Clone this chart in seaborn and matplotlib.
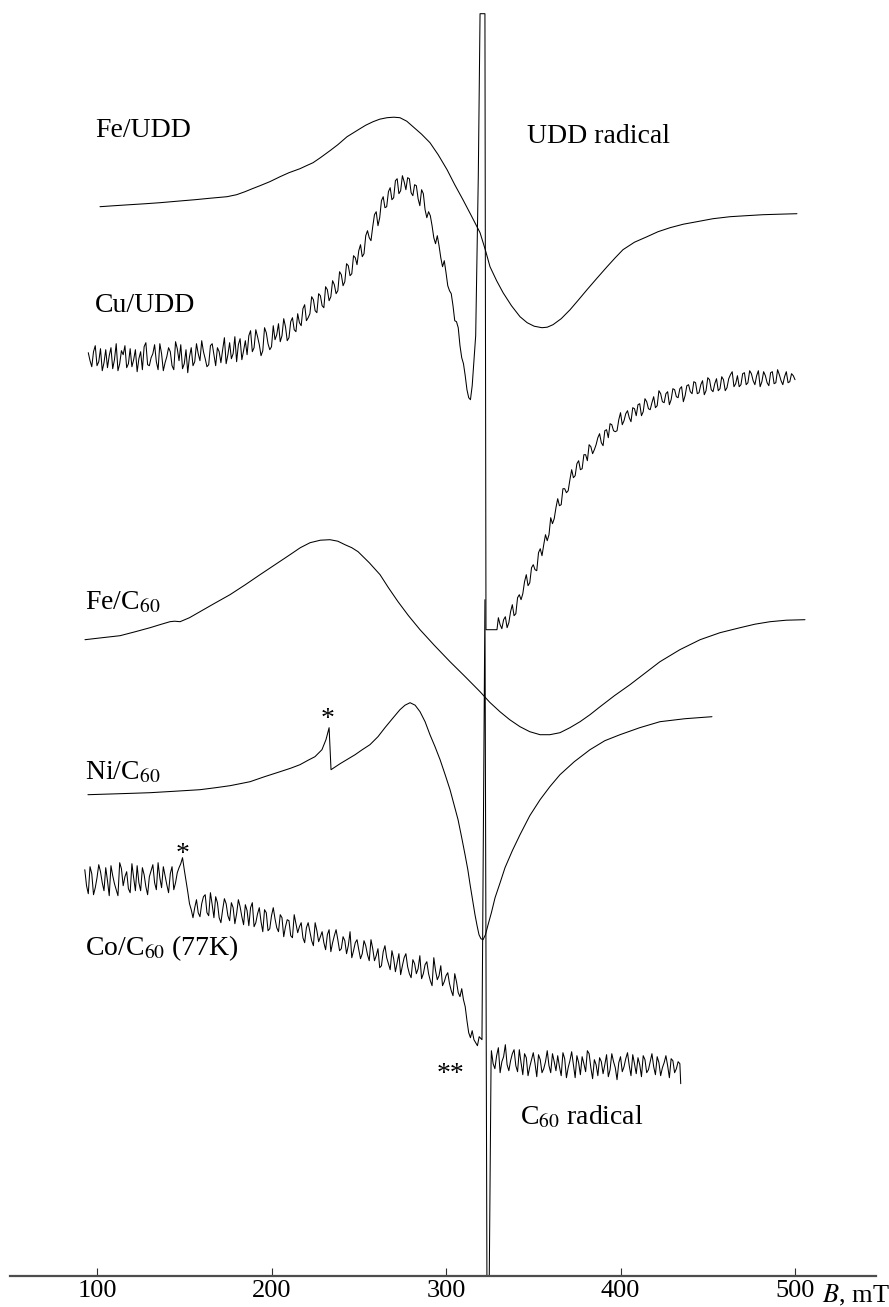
import numpy as np
import pandas as pd
import matplotlib
matplotlib.use("Agg")
import matplotlib.pyplot as plt
import seaborn as sns

# ---- field axis (mT) ----
tick_fields = [100, 200, 300, 400, 500]
tick_labels = ["100", "200", "300", "400", "500"]

# ---- Fe/UDD (smooth, broad) ----
fe_udd_B = [101.7, 110, 118.9, 128, 136.1, 146, 156.2, 165, 174.5, 180,
            184.8, 189, 193.4, 199, 204.9, 210, 216.3, 220, 223.8, 228,
            233.5, 238, 243.3, 247, 250.7, 254, 258.2, 262, 266.2, 270,
            273.6, 277.5, 281.1, 286, 290.8, 295.5, 300.6, 305, 309.7, 314.5,
            319.5, 322.5, 325.2, 329, 332.7, 337.5, 342.4, 346.5, 350.5, 355.0,
            358, 361.3, 366, 371.1, 376, 380.8, 386.5, 392.3, 397, 401.4,
            408, 415.2, 421.5, 428.4, 436, 443.8, 453, 462.8, 472, 481.7,
            491, 501.1]
fe_udd_I = [1069, 1070, 1071, 1072, 1073, 1074.5, 1076, 1077.5, 1079, 1081,
            1084, 1087, 1090, 1094, 1099, 1103, 1107, 1110, 1113, 1118,
            1125, 1131, 1139, 1143, 1147, 1150.5, 1154, 1156.5, 1158, 1158.5,
            1158, 1154.5, 1149, 1141.5, 1133, 1121, 1106, 1091, 1076, 1060,
            1043, 1026, 1009, 995, 983, 970, 959, 953, 949.5, 948,
            948.5, 951, 957, 966, 976, 986, 997.5, 1009, 1018, 1026,
            1033.5, 1039, 1044, 1048, 1051.5, 1054, 1057, 1059, 1060, 1061,
            1061.5, 1062]

# ---- Cu/UDD (noisy), low-field wing: even and odd field points ----
cu_left_B = np.arange(95, 316, 2)
cu_left_I = [923, 909, 930, 914, 905, 926, 920, 907, 932, 912,
             921, 908, 927, 916, 904, 924, 929, 911, 918, 931,
             906, 922, 913, 928, 910, 934, 915, 907, 926, 919,
             910, 932, 915, 924, 909, 930, 921, 928, 913, 938,
             921, 917, 939, 931, 916, 935, 940, 924, 946, 931,
             925, 943, 926, 950, 941, 934, 957, 935, 954, 946,
             962, 950, 971, 958, 979, 965, 982, 970, 989, 975,
             995, 982, 1004, 990, 1012, 1000, 1020, 1011, 1031, 1022,
             1045, 1035, 1061, 1050, 1075, 1068, 1084, 1076, 1095, 1082,
             1100, 1086, 1097, 1080, 1090, 1070, 1082, 1058, 1060, 1038,
             1040, 1018, 1015, 990, 982, 955, 948, 918, 900, 878,
             890]
cu_left_mid_B = np.arange(96, 315, 2)
cu_left_mid_I = [915, 924, 910, 927, 913, 908, 928, 916, 905, 925,
                 930, 912, 909, 926, 917, 906, 933, 910, 922, 914,
                 932, 905, 919, 924, 906, 927, 931, 912, 903, 928,
                 914, 922, 935, 917, 911, 932, 910, 924, 926, 912,
                 933, 922, 914, 937, 925, 921, 945, 928, 939, 920,
                 948, 932, 929, 936, 952, 940, 949, 938, 958, 944,
                 953, 967, 955, 962, 976, 963, 980, 968, 986, 979,
                 991, 985, 1001, 994, 1010, 1002, 1018, 1025, 1019, 1040,
                 1038, 1049, 1064, 1058, 1079, 1069, 1088, 1078, 1097, 1085,
                 1094, 1098, 1083, 1091, 1077, 1086, 1066, 1064, 1050, 1032,
                 1030, 1009, 1003, 985, 970, 954, 930, 912, 886, 876]
# UDD radical narrow line riding on the Cu/UDD spectrum
cu_line_B = [317.0, 318.5, 319.5, 322.3, 322.9, 329.2]
cu_line_I = [940, 1100, 1262, 1262, 646, 646]
# high-field wing
cu_right_B = np.arange(330, 501, 2)
cu_right_I = [658, 647, 659, 653, 671, 662, 681, 682, 701, 693,
              711, 705, 727, 731, 735, 758, 757, 777, 771, 787,
              785, 806, 800, 815, 807, 821, 831, 822, 831, 842,
              830, 846, 852, 845, 845, 863, 855, 865, 854, 867,
              871, 860, 877, 867, 873, 868, 885, 874, 882, 871,
              887, 879, 887, 874, 890, 884, 894, 882, 891, 881,
              898, 886, 892, 885, 899, 885, 897, 904, 892, 889,
              902, 891, 905, 895, 900, 889, 904, 893, 903, 892,
              906, 895, 899, 893, 902, 896]
cu_right_mid_B = np.arange(331, 500, 2)
cu_right_mid_I = [651, 656, 648, 664, 660, 678, 676, 694, 690, 708,
                  706, 723, 720, 741, 741, 752, 768, 770, 787, 783,
                  796, 798, 812, 806, 821, 815, 829, 826, 838, 833,
                  845, 838, 851, 844, 856, 851, 862, 858, 868, 860,
                  872, 864, 874, 866, 879, 870, 882, 873, 884, 876,
                  886, 878, 889, 880, 891, 882, 893, 883, 895, 885,
                  896, 884, 897, 887, 896, 888, 901, 889, 900, 891,
                  903, 893, 902, 891, 905, 894, 900, 890, 904, 893,
                  901, 891, 904, 894, 900]

# ---- Fe/C60 ----
fe_c60_B = [93.1, 103, 113.2, 122, 130.4, 136, 141.8, 144.5, 147.6, 153,
            159.0, 167, 176.2, 185, 193.4, 202, 210.6, 216.5, 222.1, 228,
            233.5, 238, 242.1, 246, 249.6, 256, 262.2, 267, 272.5, 278.5,
            285.1, 293.5, 302.3, 311, 319.5, 325, 330.9, 336.5, 342.4, 348,
            353.9, 359.5, 365.3, 371, 376.8, 382.5, 388.3, 396.5, 405.4, 414,
            422.6, 434, 445.6, 457, 468.5, 477, 485.7, 495, 505.7]
fe_c60_I = [636, 638, 640, 644, 648, 651, 654, 654.5, 654, 658,
            664, 672, 681, 691, 701, 711, 721, 728, 733, 735.5,
            736, 734.5, 731, 728, 724, 713, 701, 688, 674, 660,
            646, 630, 614, 599, 584, 573.5, 564, 556, 549, 544,
            541, 541, 543, 548, 554, 561, 569, 580, 591, 602.5,
            614, 626, 636, 643, 648, 651.5, 654, 655.5, 656]

# ---- Ni/C60 ----
ni_c60_B = [94.8, 104, 113.2, 122, 130.4, 145, 159.0, 168, 176.2, 182,
            187.7, 196, 204.9, 211, 216.3, 221, 224.9, 228.9, 231.2, 233.0,
            234.1, 239.3, 247.9, 252, 256.4, 261, 265.0, 269.5, 273.6, 276.5,
            279.4, 282.3, 285.1, 288, 290.8, 293.7, 296.6, 299.5, 302.3, 304.6,
            306.9, 309, 310.9, 312.5, 313.8, 315.2, 316.6, 317.8, 318.9, 320,
            321.2, 322.6, 324.1, 326, 328.1, 331, 333.8, 338, 342.4, 348,
            353.9, 359.5, 365.3, 373.5, 382.5, 391, 399.7, 411, 422.6, 437,
            452.4]
ni_c60_I = [481, 481.5, 482, 482.5, 483, 484.5, 486, 488, 490, 492,
            494, 499, 504, 507.5, 511, 515.5, 519, 526, 536, 548,
            506, 512, 521, 526, 531, 539, 548, 557.5, 566, 570.5,
            573, 570.5, 564, 554, 541, 529, 516, 501, 486, 471,
            456, 438, 421, 406, 391, 376, 361, 350, 341, 337,
            336, 341, 351, 363, 378, 393, 408, 425, 441, 460,
            476, 489, 501, 514, 526, 535, 541, 548, 554, 557,
            559]

# ---- Co/C60 (77K), noisy: even and odd field points ----
co_left_B = np.arange(93, 320, 2)
co_left_I = [406, 382, 402, 388, 411, 393, 408, 380, 400, 386,
             413, 390, 404, 383, 398, 410, 385, 401, 381, 405,
             393, 413, 388, 400, 383, 409, 393, 408, 418, 395,
             372, 358, 376, 359, 379, 363, 383, 358, 373, 353,
             377, 360, 373, 352, 376, 359, 371, 350, 373, 353,
             368, 344, 363, 347, 368, 348, 361, 339, 356, 340,
             361, 343, 353, 333, 353, 335, 353, 334, 344, 326,
             346, 333, 346, 325, 339, 322, 344, 325, 336, 317,
             335, 321, 336, 315, 327, 310, 330, 312, 325, 304,
             322, 310, 322, 302, 316, 302, 320, 302, 314, 295,
             318, 296, 310, 294, 303, 285, 302, 283, 287, 269,
             243, 245, 233, 239]
co_left_mid_B = np.arange(94, 319, 2)
co_left_mid_I = [390, 409, 381, 398, 404, 385, 395, 410, 392, 380,
                 407, 399, 387, 412, 385, 393, 408, 389, 399, 411,
                 386, 398, 409, 391, 402, 386, 403, 412, 406, 384,
                 366, 368, 363, 372, 381, 360, 371, 379, 358, 366,
                 372, 355, 368, 362, 369, 351, 365, 368, 349, 362,
                 354, 366, 345, 360, 357, 344, 358, 349, 355, 338,
                 352, 349, 338, 348, 344, 330, 345, 339, 333, 341,
                 324, 340, 336, 327, 335, 330, 318, 333, 326, 322,
                 330, 315, 327, 320, 308, 324, 318, 306, 317, 313,
                 301, 318, 309, 298, 312, 307, 297, 311, 302, 290,
                 305, 300, 290, 300, 292, 280, 294, 279, 276, 255,
                 238, 236, 230]
# C60 radical narrow line
co_line_B = [320.6, 322.3, 323.5, 324.6, 325.8]
co_line_I = [236, 676, -40, -40, 211]
co_right_B = np.arange(326, 435, 2)
co_right_I = [225, 207, 228, 214, 231, 205, 222, 210, 226, 201,
              218, 209, 223, 199, 216, 207, 225, 203, 214, 220,
              200, 217, 208, 224, 198, 213, 219, 204, 222, 197,
              211, 218, 202, 221, 206, 214, 196, 219, 209, 223,
              200, 212, 218, 199, 216, 206, 222, 201, 213, 208,
              220, 198, 215, 207, 212]
co_right_mid_B = np.arange(327, 434, 2)
co_right_mid_I = [212, 220, 203, 219, 211, 215, 226, 204, 213, 222,
                  200, 216, 212, 221, 203, 214, 210, 222, 205, 209,
                  223, 198, 215, 211, 220, 201, 212, 225, 208, 216,
                  200, 214, 211, 199, 222, 208, 213, 204, 217, 210,
                  221, 202, 211, 220, 203, 214, 209, 219, 200, 213,
                  210, 217, 203, 214]
co_end_B = [434.5]
co_end_I = [192]


def merged(*parts):
    """Join (field, signal) pieces and order them along the field sweep."""
    B = np.concatenate([np.asarray(p[0], float) for p in parts])
    I = np.concatenate([np.asarray(p[1], float) for p in parts])
    order = np.argsort(B, kind="stable")
    return B[order], I[order]


spectra = {
    "Fe/UDD": (np.asarray(fe_udd_B, float), np.asarray(fe_udd_I, float)),
    "Cu/UDD": merged((cu_left_B, cu_left_I), (cu_left_mid_B, cu_left_mid_I),
                     (cu_line_B, cu_line_I),
                     (cu_right_B, cu_right_I), (cu_right_mid_B, cu_right_mid_I)),
    "Fe/C60": (np.asarray(fe_c60_B, float), np.asarray(fe_c60_I, float)),
    "Ni/C60": (np.asarray(ni_c60_B, float), np.asarray(ni_c60_I, float)),
    "Co/C60": merged((co_left_B, co_left_I), (co_left_mid_B, co_left_mid_I),
                     (co_line_B, co_line_I),
                     (co_right_B, co_right_I), (co_right_mid_B, co_right_mid_I),
                     (co_end_B, co_end_I)),
}

sns.set_theme(style="white")
plt.rcParams["font.family"] = ["Liberation Serif", "DejaVu Serif"]
plt.rcParams["mathtext.fontset"] = "stix"
plt.rcParams["text.color"] = "black"
plt.rcParams["xtick.color"] = "black"

fig = plt.figure(figsize=(8.89, 13.07), dpi=100)
ax = fig.add_axes([10 / 889, (1307 - 1275.7) / 1307, 866 / 889, 1275.7 / 1307])

for name, (B, I) in spectra.items():
    df = pd.DataFrame({"field": B, "signal": I})
    sns.lineplot(data=df, x="field", y="signal", ax=ax, color="black",
                 linewidth=0.75, sort=False, estimator=None)

ax.set_xlim(50.14, 546.4)
ax.set_ylim(0, 1275.7)
ax.set_xlabel("")
ax.set_ylabel("")
ax.set_yticks([])
ax.set_xticks(tick_fields)
ax.set_xticklabels(tick_labels, fontsize=19, color="black")
ax.tick_params(axis="x", direction="in", length=6, width=0.8, color="#303030",
               pad=3, bottom=True)
for side in ["top", "left", "right"]:
    ax.spines[side].set_visible(False)
ax.spines["bottom"].set_color("#4d4d4d")
ax.spines["bottom"].set_linewidth(1.6)

fs = 20
tk = dict(fontsize=fs, color="black")
ax.text(98.9, 1139, "Fe/UDD", va="baseline", **tk)
ax.text(346.4, 1133, "UDD radical", va="baseline", **tk)
ax.text(98.9, 964, "Cu/UDD", va="baseline", **tk)
ax.text(93.1, 666, "Fe/C$_{60}$", va="baseline", **tk)
ax.text(93.1, 496, "Ni/C$_{60}$", va="baseline", **tk)
ax.text(93.1, 321, "Co/C$_{60}$ (77K)", va="baseline", **tk)
ax.text(342.4, 151, "C$_{60}$ radical", va="baseline", **tk)
ax.text(232.4, 556, "*", ha="center", va="center", **tk)
ax.text(149.3, 421, "*", ha="center", va="center", **tk)
ax.text(302.3, 201, "**", ha="center", va="center", **tk)
ax.text(515.5, -26.3, "$B$, mT", fontsize=19, color="black", va="baseline",
        clip_on=False)

fig.savefig("out.png", dpi=100)
